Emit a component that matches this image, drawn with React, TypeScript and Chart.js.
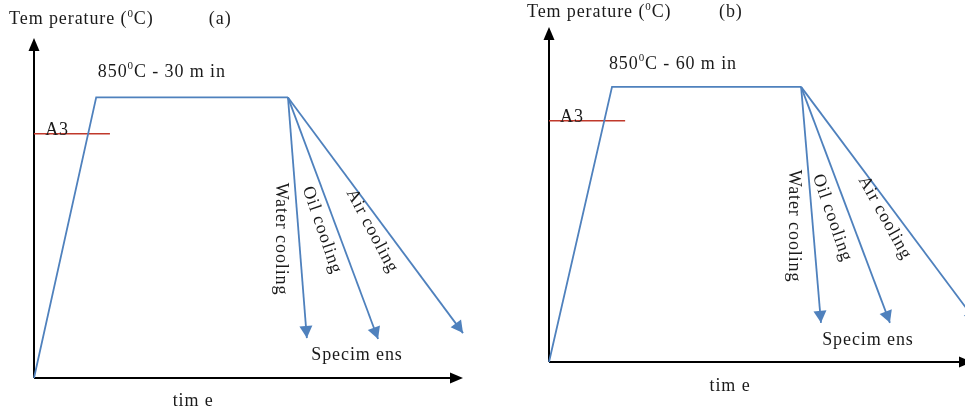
import { useEffect, useRef } from "react";
import { Chart, registerables } from "chart.js";
Chart.register(...registerables);

// ---------- data ----------
const coolingMedia = ["Water cooling", "Oil cooling", "Air cooling"];
const holdLabels = ["850^0C - 30 m in", "850^0C - 60 m in"];
const panelTags = ["(a)", "(b)"];

// Panel (a): heat to 850 °C, hold 30 min, then cool
const heatTimeA = [0, 14.5, 59.2];
const heatTempA = [0, 850, 850];
const coolEndTimeA = [63.6, 80.2, 100];
const coolEndTempA = [121, 118, 136];
const a3TimeA = [0, 17.7];
const a3TempA = [740, 740];

// Panel (b): heat to 850 °C, hold 60 min, then cool
const heatTimeB = [0, 14.9, 59.6];
const heatTempB = [0, 850, 850];
const coolEndTimeB = [64.3, 80.6, 101];
const coolEndTempB = [121, 121, 125];
const a3TimeB = [0, 18.0];
const a3TempB = [745, 745];

// ---------- styles ----------
const BLUE = "#4f81bd";
const RED = "#c0392b";
const TEXT = "#1a1a1a";
const FONT = '"Liberation Serif", "Times New Roman", serif';
const FS = 18;

type Label = { text: string; x: number; y: number; align?: "left" | "center"; angle?: number };

function drawRich(ctx: CanvasRenderingContext2D, l: any) {
  const parts: { t: string; sup: boolean }[] = [];
  const re = /\^(\d)/g;
  let last = 0;
  let m: RegExpExecArray | null;
  while ((m = re.exec(l.text))) {
    if (m.index > last) parts.push({ t: l.text.slice(last, m.index), sup: false });
    parts.push({ t: m[1], sup: true });
    last = m.index + m[0].length;
  }
  if (last < l.text.length) parts.push({ t: l.text.slice(last), sup: false });
  ctx.save();
  (ctx as any).letterSpacing = "0.9px";
  const fontFor = (sup: boolean) => `${sup ? Math.round(FS * 0.62) : FS}px ${FONT}`;
  const widths = parts.map((p) => {
    ctx.font = fontFor(p.sup);
    return ctx.measureText(p.t).width;
  });
  const total = widths.reduce((a, b) => a + b, 0);
  ctx.translate(l.px, l.py);
  ctx.rotate(((l.angle || 0) * Math.PI) / 180);
  ctx.textBaseline = "middle";
  ctx.textAlign = "left";
  ctx.fillStyle = TEXT;
  let cx = l.align === "left" ? 0 : -total / 2;
  parts.forEach((p, i) => {
    ctx.font = fontFor(p.sup);
    ctx.fillText(p.t, cx, p.sup ? -FS * 0.3 : 0);
    cx += widths[i];
  });
  ctx.restore();
}

function arrowHead(
  ctx: CanvasRenderingContext2D,
  fx: number, fy: number, tx: number, ty: number,
  len: number, half: number, color: string
) {
  const a = Math.atan2(ty - fy, tx - fx);
  ctx.save();
  ctx.fillStyle = color;
  ctx.beginPath();
  ctx.moveTo(tx, ty);
  ctx.lineTo(tx - len * Math.cos(a) + half * Math.sin(a), ty - len * Math.sin(a) - half * Math.cos(a));
  ctx.lineTo(tx - len * Math.cos(a) - half * Math.sin(a), ty - len * Math.sin(a) + half * Math.cos(a));
  ctx.closePath();
  ctx.fill();
  ctx.restore();
}

type PanelDef = {
  heatTime: number[]; heatTemp: number[];
  coolTime: number[]; coolTemp: number[];
  a3Time: number[]; a3Temp: number[];
  yMax: number;
  padding: { left: number; right: number; top: number; bottom: number };
  labels: Label[];
  width: number; left: number;
};

const panels: PanelDef[] = [
  {
    heatTime: heatTimeA, heatTemp: heatTempA,
    coolTime: coolEndTimeA, coolTemp: coolEndTempA,
    a3Time: a3TimeA, a3Temp: a3TempA,
    yMax: 1030,
    padding: { left: 34, right: 19, top: 38, bottom: 34 },
    width: 482, left: 0,
    labels: [
      { text: "Tem perature (^0C)", x: -5.8, y: 1087, align: "left" },
      { text: panelTags[0], x: 43.4, y: 1087 },
      { text: holdLabels[0], x: 29.8, y: 927 },
      { text: "A3", x: 2.6, y: 750, align: "left" },
      { text: coolingMedia[0], x: 57.6, y: 421, angle: 90 },
      { text: coolingMedia[1], x: 67.1, y: 448, angle: 71 },
      { text: coolingMedia[2], x: 78.8, y: 445, angle: 62 },
      { text: "Specim ens", x: 75.3, y: 70 },
      { text: "tim e", x: 37.1, y: -70 },
    ],
  },
  {
    heatTime: heatTimeB, heatTemp: heatTempB,
    coolTime: coolEndTimeB, coolTemp: coolEndTempB,
    a3Time: a3TimeB, a3Temp: a3TempB,
    yMax: 1035,
    padding: { left: 67, right: 10, top: 27, bottom: 50 },
    width: 500, left: 482,
    labels: [
      { text: "Tem perature (^0C)", x: -5.2, y: 1079, align: "left" },
      { text: panelTags[1], x: 43, y: 1079 },
      { text: holdLabels[1], x: 29.3, y: 921 },
      { text: "A3", x: 2.6, y: 756, align: "left" },
      { text: coolingMedia[0], x: 57.9, y: 420, angle: 90 },
      { text: coolingMedia[1], x: 66.9, y: 445, angle: 71 },
      { text: coolingMedia[2], x: 79.4, y: 445, angle: 61 },
      { text: "Specim ens", x: 75.4, y: 68 },
      { text: "tim e", x: 42.8, y: -74 },
    ],
  },
];

function Panel({ def }: { def: PanelDef }) {
  const ref = useRef<HTMLCanvasElement | null>(null);
  useEffect(() => {
    if (!ref.current) return;
    const last = def.heatTime.length - 1;
    const start = { x: def.heatTime[last], y: def.heatTemp[last] };
    const datasets: any[] = [
      {
        data: def.heatTime.map((t, i) => ({ x: t, y: def.heatTemp[i] })),
        borderColor: BLUE, borderWidth: 1.8,
      },
      ...def.coolTime.map((t, i) => ({
        data: [start, { x: t, y: def.coolTemp[i] }],
        borderColor: BLUE, borderWidth: 1.8, isCooling: true,
      })),
      {
        data: def.a3Time.map((t, i) => ({ x: t, y: def.a3Temp[i] })),
        borderColor: RED, borderWidth: 1.5,
      },
    ];
    datasets.forEach((d) => {
      d.showLine = true;
      d.pointRadius = 0;
      d.fill = false;
      d.clip = false;
      d.tension = 0;
    });

    const decor = {
      id: "decor",
      beforeDatasetsDraw(chart: any) {
        const ctx: CanvasRenderingContext2D = chart.ctx;
        const xs = chart.scales.x, ys = chart.scales.y;
        const x0 = xs.getPixelForValue(0), y0 = ys.getPixelForValue(0);
        const xe = xs.getPixelForValue(xs.max), ye = ys.getPixelForValue(ys.max);
        ctx.save();
        ctx.strokeStyle = "#000";
        ctx.lineWidth = 2;
        ctx.beginPath();
        ctx.moveTo(x0, y0);
        ctx.lineTo(x0, ye + 8);
        ctx.moveTo(x0, y0);
        ctx.lineTo(xe - 8, y0);
        ctx.stroke();
        ctx.restore();
        arrowHead(ctx, x0, y0, x0, ye, 13, 5.5, "#000");
        arrowHead(ctx, x0, y0, xe, y0, 13, 5.5, "#000");
      },
      afterDatasetsDraw(chart: any) {
        const ctx: CanvasRenderingContext2D = chart.ctx;
        const xs = chart.scales.x, ys = chart.scales.y;
        chart.data.datasets.forEach((d: any) => {
          if (!d.isCooling) return;
          const a = d.data[0], b = d.data[1];
          arrowHead(
            ctx,
            xs.getPixelForValue(a.x), ys.getPixelForValue(a.y),
            xs.getPixelForValue(b.x), ys.getPixelForValue(b.y),
            12, 6.5, BLUE
          );
        });
        def.labels.forEach((l) => {
          drawRich(ctx, { ...l, px: xs.getPixelForValue(l.x), py: ys.getPixelForValue(l.y) });
        });
      },
    };

    const chart = new Chart(ref.current, {
      type: "scatter",
      data: { datasets },
      options: {
        animation: false,
        responsive: false,
        devicePixelRatio: 1,
        layout: { padding: def.padding },
        plugins: { legend: { display: false }, tooltip: { enabled: false }, title: { display: false } },
        scales: {
          x: { type: "linear", min: 0, max: 100, display: false },
          y: { type: "linear", min: 0, max: def.yMax, display: false },
        },
        events: [],
      },
      plugins: [decor],
    });
    return () => chart.destroy();
  }, [def]);
  return (
    <canvas
      ref={ref}
      width={def.width}
      height={412}
      style={{ position: "absolute", left: def.left, top: 0, display: "block" }}
    />
  );
}

export default function App() {
  return (
    <div
      style={{
        position: "fixed", left: 0, top: 0, width: 965, height: 412,
        overflow: "hidden", background: "#fff",
      }}
    >
      {panels.map((p, i) => (
        <Panel key={i} def={p} />
      ))}
    </div>
  );
}
